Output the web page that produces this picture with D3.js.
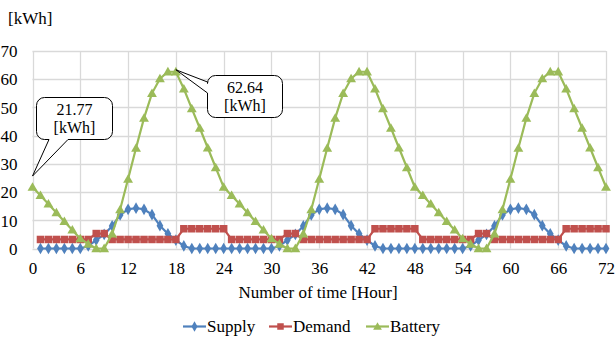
<!DOCTYPE html>
<html>
<head>
<meta charset="utf-8">
<script src="https://cdn.jsdelivr.net/npm/d3@7"></script>
<style>
  html, body { margin: 0; padding: 0; background: #fff; }
  svg { display: block; }
</style>
</head>
<body>
<svg id="chart" width="616" height="338"></svg>
<script>
// Hourly energy balance over three days (kWh)
const FONT = "Liberation Serif";
const FONT_SIZE = 17;

const supplyHours = d3.range(1, 73);
const batteryHours = d3.range(0, 73);

const supply = [
  0, 0, 0, 0, 0, 0, 0.9, 3.0, 5.0, 8.0, 11.9, 13.9, 14.3, 13.9, 12.0, 8.1, 5.2, 3.0, 0.9, 0, 0, 0, 0, 0,
  0, 0, 0, 0, 0, 0, 0.9, 3.0, 5.0, 8.0, 11.9, 13.9, 14.3, 13.9, 12.0, 8.1, 5.2, 3.0, 0.9, 0, 0, 0, 0, 0,
  0, 0, 0, 0, 0, 0, 0.9, 3.0, 5.0, 8.0, 11.9, 13.9, 14.3, 13.9, 12.0, 8.1, 5.2, 3.0, 0.9, 0, 0, 0, 0, 0
];

const demand = [
  3.2, 3.2, 3.2, 3.2, 3.2, 3.2, 3.2, 5.3, 5.3, 3.2, 3.2, 3.2, 3.2, 3.2, 3.2, 3.2, 3.2, 3.2, 7.0, 7.0, 7.0, 7.0, 7.0, 7.0,
  3.2, 3.2, 3.2, 3.2, 3.2, 3.2, 3.2, 5.3, 5.3, 3.2, 3.2, 3.2, 3.2, 3.2, 3.2, 3.2, 3.2, 3.2, 7.0, 7.0, 7.0, 7.0, 7.0, 7.0,
  3.2, 3.2, 3.2, 3.2, 3.2, 3.2, 3.2, 5.3, 5.3, 3.2, 3.2, 3.2, 3.2, 3.2, 3.2, 3.2, 3.2, 3.2, 7.0, 7.0, 7.0, 7.0, 7.0, 7.0
];

const battery = [
  21.77,
  18.8, 15.8, 12.7, 9.6, 6.6, 3.5, 1.6, 0, 0, 5.2, 13.8, 24.6, 35.6, 46.2, 55.0, 60.2, 62.64, 62.64, 56.6, 49.6, 42.7, 35.7, 28.7, 21.77,
  18.8, 15.8, 12.7, 9.6, 6.6, 3.5, 1.6, 0, 0, 5.2, 13.8, 24.6, 35.6, 46.2, 55.0, 60.2, 62.64, 62.64, 56.6, 49.6, 42.7, 35.7, 28.7, 21.77,
  18.8, 15.8, 12.7, 9.6, 6.6, 3.5, 1.6, 0, 0, 5.2, 13.8, 24.6, 35.6, 46.2, 55.0, 60.2, 62.64, 62.64, 56.6, 49.6, 42.7, 35.7, 28.7, 21.77
];

const xTicks = [0, 6, 12, 18, 24, 30, 36, 42, 48, 54, 60, 66, 72];
const yTicks = [0, 10, 20, 30, 40, 50, 60, 70];
const seriesNames = ["Supply", "Demand", "Battery"];
const seriesColors = ["#4F81BD", "#C0504D", "#9BBB59"];
const calloutHours = [0, 18];

const svg = d3.select("#chart");
const x = d3.scaleLinear().domain([0, 72]).range([32.5, 606]);
const y = d3.scaleLinear().domain([0, 70]).range([248.5, 51]);

// grid
const grid = svg.append("g");
grid.selectAll("line.h").data(yTicks).join("line")
  .attr("x1", x(0)).attr("x2", x(72))
  .attr("y1", d => Math.round(y(d)) + 0.5).attr("y2", d => Math.round(y(d)) + 0.5)
  .attr("stroke", "#D9D9D9").attr("stroke-width", 1.3);
grid.selectAll("line.v").data(xTicks).join("line")
  .attr("y1", y(0)).attr("y2", y(70))
  .attr("x1", d => Math.round(x(d)) + 0.5).attr("x2", d => Math.round(x(d)) + 0.5)
  .attr("stroke", "#D9D9D9").attr("stroke-width", 1.3);

// axis labels
const yAxis = d3.axisLeft(y).tickValues(yTicks).tickSize(0).tickPadding(0);
const gy = svg.append("g").attr("transform", "translate(17.5,0)").call(yAxis)
  .attr("font-family", FONT).attr("font-size", FONT_SIZE);
gy.select(".domain").remove();
gy.selectAll("text").attr("fill", "#000").attr("dy", "0.34em");

const xAxis = d3.axisBottom(x).tickValues(xTicks).tickSize(0).tickPadding(0);
const gx = svg.append("g").attr("transform", "translate(0,262)").call(xAxis)
  .attr("font-family", FONT).attr("font-size", FONT_SIZE);
gx.select(".domain").remove();
gx.selectAll("text").attr("fill", "#000").attr("dy", "0.71em");

function label(px, py, str, anchor, size) {
  return svg.append("text").attr("x", px).attr("y", py)
    .attr("text-anchor", anchor || "start")
    .attr("font-family", FONT).attr("font-size", size || FONT_SIZE).attr("fill", "#000").text(str);
}

label(8, 24, "[kWh]");
label(318, 298, "Number of time [Hour]", "middle");

// markers
function marker(sel, type, size) {
  if (type === 0) {
    sel.append("path").attr("d", d3.symbol(d3.symbolDiamond, size * size * 0.62)());
  } else if (type === 1) {
    sel.append("rect").attr("x", -size / 2).attr("y", -size / 2).attr("width", size).attr("height", size);
  } else {
    sel.append("path").attr("d", d3.symbol(d3.symbolTriangle, size * size * 0.52)()).attr("transform", "translate(0,0.8)");
  }
}

const line = d3.line().x(d => x(d[0])).y(d => y(d[1]));
const series = [
  supplyHours.map((h, i) => [h, supply[i]]),
  supplyHours.map((h, i) => [h, demand[i]]),
  batteryHours.map((h, i) => [h, battery[i]])
];

series.forEach((pts, k) => {
  svg.append("path")
    .attr("d", line(pts)).attr("fill", "none")
    .attr("stroke", seriesColors[k]).attr("stroke-width", 2.2);
  const g = svg.append("g").attr("fill", seriesColors[k]);
  pts.forEach(p => {
    const m = g.append("g").attr("transform", `translate(${x(p[0])},${y(p[1])})`);
    marker(m, k, k === 0 ? 8 : (k === 1 ? 7.5 : 9));
  });
});

// callouts
function callout(box, wedge, tip) {
  const p = d3.path();
  const { x0, y0, w, h, r } = box;
  const x1 = x0 + w, y1 = y0 + h;
  p.moveTo(x0 + r, y0);
  p.lineTo(x1 - r, y0);
  p.arcTo(x1, y0, x1, y0 + r, r);
  p.lineTo(x1, y1 - r);
  p.arcTo(x1, y1, x1 - r, y1, r);
  if (wedge.side === "bottom") {
    p.lineTo(wedge.b, y1);
    p.lineTo(tip[0], tip[1]);
    p.lineTo(wedge.a, y1);
  }
  p.lineTo(x0 + r, y1);
  p.arcTo(x0, y1, x0, y1 - r, r);
  if (wedge.side === "left") {
    p.lineTo(x0, wedge.b);
    p.lineTo(tip[0], tip[1]);
    p.lineTo(x0, wedge.a);
  }
  p.lineTo(x0, y0 + r);
  p.arcTo(x0, y0, x0 + r, y0, r);
  p.closePath();
  return p.toString();
}

const fmt = d3.format(".2f");
const c0 = calloutHours[0], c1 = calloutHours[1];
const t0 = [x(c0), y(battery[c0]) - 11];
const t1 = [x(c1), y(battery[c1]) - 2];

const callouts = [
  { box: { x0: 36.5, y0: 97.5, w: 76, h: 42, r: 8 }, wedge: { side: "bottom", a: 49, b: 68 }, tip: t0,
    cx: 74.5, value: battery[c0] },
  { box: { x0: 207.5, y0: 75.5, w: 75, h: 42, r: 8 }, wedge: { side: "left", a: 82, b: 93 }, tip: t1,
    cx: 245, value: battery[c1] }
];

callouts.forEach(c => {
  svg.append("path").attr("d", callout(c.box, c.wedge, c.tip))
    .attr("fill", "#fff").attr("stroke", "#000").attr("stroke-width", 1);
  label(c.cx, c.box.y0 + 17, fmt(c.value), "middle", 16);
  label(c.cx, c.box.y0 + 35, "[kWh]", "middle", 16);
});

// legend
const legendX = [183, 269, 366];
seriesNames.forEach((name, k) => {
  const g = svg.append("g").attr("transform", `translate(${legendX[k]},326.5)`);
  g.append("line").attr("x1", 0).attr("x2", 23).attr("stroke", seriesColors[k]).attr("stroke-width", 2.2);
  const m = g.append("g").attr("transform", "translate(11.5,0)").attr("fill", seriesColors[k]);
  marker(m, k, k === 0 ? 7 : (k === 1 ? 6.5 : 8));
  g.append("text").attr("x", 24).attr("y", 5.5)
    .attr("font-family", FONT).attr("font-size", FONT_SIZE).attr("fill", "#000").text(name);
});
</script>
</body>
</html>
